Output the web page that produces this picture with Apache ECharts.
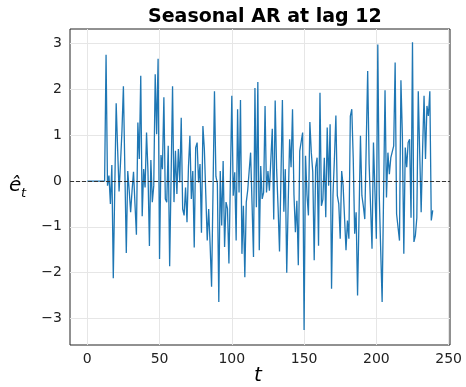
<!DOCTYPE html>
<html><head><meta charset="utf-8">
<script src="https://cdn.jsdelivr.net/npm/echarts@6/dist/echarts.min.js"></script>
<style>html,body{margin:0;padding:0;background:#fff}#c{width:466px;height:387px}</style>
</head><body><div id="c"></div>
<script>
// residuals e_t for t = 0..239 (first 13 are zero)
var leadingZeros = 13;
var residuals = [
 2.76,-0.1,0.12,-0.5,0.35,-2.12,-0.2,1.7,0.7,-0.23,
 0.4,1.1,2.07,0.25,-1.57,0.22,-0.2,-0.68,-0.2,0.2,
 -0.5,-1.17,1.28,0.48,2.3,-0.77,0.26,-0.14,1.06,0.2,
 -1.42,0.46,-0.46,-0.1,2.33,1.02,2.67,-1.7,0.57,0.26,
 1.83,-0.39,-0.46,0.77,-1.86,0.1,2.07,-0.46,0.66,-0.28,
 0.7,-0.03,1.38,-0.61,-0.75,-0.14,-0.9,0.3,0.99,-0.39,
 0.22,-1.45,0.73,0.84,-0.03,0.37,-1.13,1.2,0.7,-0.3,
 -1.3,-0.61,-1.4,-2.31,-0.2,1.96,0.1,-0.05,-2.64,0.22,
 -0.97,0.44,-1.44,-0.46,-0.6,-1.8,0.0,1.86,-0.32,0.19,
 -1.3,1.57,-0.25,1.77,-1.59,-0.54,-2.1,-0.46,-0.2,0.22,
 0.62,-0.5,-1.66,2.03,-0.57,2.16,-1.51,0.33,-0.39,-0.25,
 1.64,-0.25,0.22,-0.21,-0.17,1.14,-0.84,1.76,0.26,-0.57,
 -1.54,0.1,1.77,-0.67,0.26,-2.0,-0.5,0.91,0.3,1.57,
 -0.3,-1.12,-0.43,-1.84,0.66,0.7,1.06,-3.25,0.55,-0.3,
 -0.75,1.29,0.62,0.2,-1.73,0.3,0.51,-1.41,1.93,-0.54,
 -0.4,0.51,-0.79,1.17,-0.1,1.24,-2.35,-0.3,0.5,1.43,
 -0.32,-0.5,-1.26,0.22,-0.1,-0.1,-1.51,-0.86,-1.26,1.42,
 1.57,0.5,-1.15,-0.68,-2.5,-0.8,0.99,-0.32,-0.55,-0.83,
 0.8,2.4,0.37,0.33,-1.48,0.84,-0.2,-1.26,2.98,-0.3,
 -1.5,-2.64,-0.3,1.98,-0.36,0.62,0.15,0.51,0.5,0.77,
 2.59,-0.72,-0.75,-1.3,2.2,1.0,-1.59,0.73,0.3,0.84,
 0.91,-0.8,3.03,-1.33,-1.19,-0.8,1.96,0.6,-0.68,0.7,
 1.86,0.48,1.64,1.42,1.96,-0.86,-0.64
];
var xTicks = [0, 50, 100, 150, 200, 250];
var yTicks = [-3, -2, -1, 0, 1, 2, 3];
var titleText = 'Seasonal AR at lag 12';

var values = [];
for (var i = 0; i < leadingZeros; i++) values.push(0);
values = values.concat(residuals);
var data = values.map(function (v, t) { return [t, v]; });

var gridLines = xTicks.map(function (x) { return {xAxis: x}; })
  .concat(yTicks.map(function (y) { return {yAxis: y}; }));

var FONT = 'DejaVu Sans';
var chart = echarts.init(document.getElementById('c'), null, {renderer: 'canvas'});
chart.setOption({
  animation: false,
  backgroundColor: '#fff',
  title: {
    text: titleText, left: 143, top: 3,
    textStyle: {fontFamily: FONT, fontSize: 19, fontWeight: 'bold', color: '#000'}
  },
  grid: {left: 70, right: 16, top: 29, bottom: 42, show: true, borderColor: '#222', borderWidth: 1},
  xAxis: {
    type: 'value', min: -11.95, max: 250.95,
    axisLine: {show: false},
    axisTick: {show: true, inside: false, length: 4, customValues: xTicks, lineStyle: {color: '#222'}},
    axisLabel: {customValues: xTicks, margin: 7, fontFamily: FONT, fontSize: 14, color: '#222'},
    splitLine: {show: false}
  },
  yAxis: {
    type: 'value', min: -3.58, max: 3.32,
    axisLine: {show: false},
    axisTick: {show: true, inside: false, length: 4, customValues: yTicks, lineStyle: {color: '#222'}},
    axisLabel: {customValues: yTicks, margin: 8, fontFamily: FONT, fontSize: 14, color: '#222',
      formatter: function (v) { return String(v).replace('-', '\u2212'); }},
    splitLine: {show: false}
  },
  series: [{
    type: 'line', data: [], z: 1, silent: true,
    markLine: {
      silent: true, symbol: 'none', label: {show: false}, animation: false, z: 1,
      lineStyle: {color: '#e6e6e6', type: 'solid', width: 1},
      data: gridLines
    }
  }, {
    type: 'line', data: data, showSymbol: false, symbol: 'none',
    lineStyle: {color: '#1f77b4', width: 1.3}, z: 3,
    markLine: {
      silent: true, symbol: 'none', label: {show: false}, z: 4,
      lineStyle: {color: '#333', type: [4, 2], width: 1.1},
      data: [{yAxis: 0}]
    }
  }],
  graphic: [
    {type: 'text', left: 9, top: 176, style: {text: '\u00ea', fontFamily: FONT, fontStyle: 'italic', fontSize: 20, fill: '#000'}},
    {type: 'text', left: 21, top: 187, style: {text: 't', fontFamily: FONT, fontStyle: 'italic', fontSize: 13, fill: '#000'}},
    {type: 'text', left: 254, top: 366, style: {text: 't', fontFamily: FONT, fontStyle: 'italic', fontSize: 20, fill: '#000'}}
  ]
});
</script></body></html>
